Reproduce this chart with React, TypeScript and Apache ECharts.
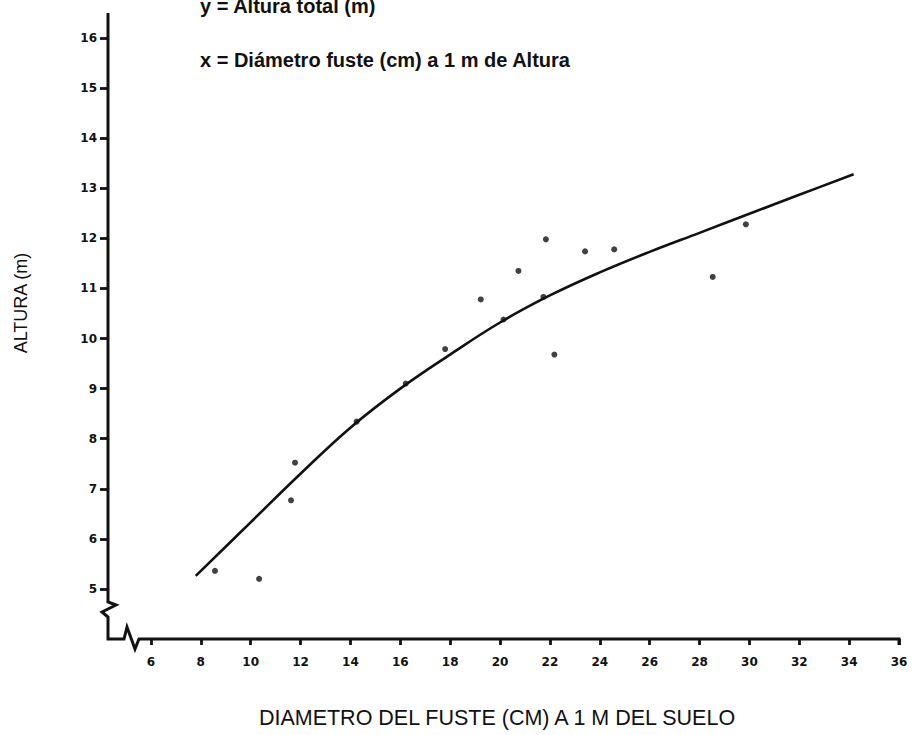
import React, { useEffect, useRef } from "react";
import * as echarts from "echarts";

const xTicks = [6, 8, 10, 12, 14, 16, 18, 20, 22, 24, 26, 28, 30, 32, 34, 36];
const yTicks = [5, 6, 7, 8, 9, 10, 11, 12, 13, 14, 15, 16];

const obsX = [8.57, 10.34, 11.62, 11.78, 14.25, 16.22, 17.8, 19.23, 20.14, 20.74, 21.74, 21.84, 22.18, 23.41, 24.58, 28.53, 29.86];
const obsY = [5.36, 5.2, 6.77, 7.52, 8.34, 9.1, 9.79, 10.78, 10.38, 11.35, 10.83, 11.98, 9.68, 11.74, 11.78, 11.23, 12.28];

const curveX = [7.8, 10, 12, 14, 16, 18, 20, 22, 24, 26, 28, 30, 32, 34.18];
const curveY = [5.26, 6.33, 7.3, 8.22, 9.0, 9.68, 10.32, 10.86, 11.32, 11.73, 12.11, 12.49, 12.87, 13.28];

const titleY = "y = Altura total (m)";
const titleX = "x = Diámetro fuste (cm) a 1 m de Altura";
const nameY = "ALTURA (m)";
const nameX = "DIAMETRO DEL FUSTE (CM) A 1 M DEL SUELO";

const Y_OFFSET = 7;

export default function App() {
  const ref = useRef<HTMLDivElement>(null);
  useEffect(() => {
    if (!ref.current) return;
    const chart = echarts.init(ref.current, null, { renderer: "svg" });
    const tickFont = { fontFamily: "DejaVu Sans", fontWeight: "bold", fontSize: 12, color: "#111" };
    const option: any = {
      animation: false,
      backgroundColor: "#fff",
      grid: { left: 101, right: 15, top: 13, bottom: 96 },
      xAxis: {
        type: "value",
        min: 4,
        max: 36,
        interval: 2,
        axisLine: { show: false },
        splitLine: { show: false },
        axisTick: { show: true, length: 6, customValues: xTicks, lineStyle: { color: "#111", width: 2.8 } },
        axisLabel: { ...tickFont, margin: 17, customValues: xTicks },
      },
      yAxis: {
        type: "value",
        min: 4,
        max: 16.5,
        interval: 1,
        offset: -Y_OFFSET,
        axisLine: { show: false },
        splitLine: { show: false },
        axisTick: { show: true, length: 8, customValues: yTicks, lineStyle: { color: "#111", width: 2.8 } },
        axisLabel: { ...tickFont, margin: 11, customValues: yTicks },
      },
      series: [
        {
          type: "line",
          data: curveX.map((x, i) => [x, curveY[i]]),
          smooth: 0.4,
          showSymbol: false,
          symbol: "none",
          lineStyle: { color: "#111", width: 2.6 },
        },
        {
          type: "scatter",
          data: obsX.map((x, i) => [x, obsY[i]]),
          symbolSize: 6,
          itemStyle: { color: "#111" },
        },
      ],
    };
    chart.setOption(option);

    const Y0 = (chart.convertToPixel({ xAxisIndex: 0 }, 4) as number) + Y_OFFSET;
    const X0 = chart.convertToPixel({ yAxisIndex: 0 }, 4) as number;
    const top = chart.convertToPixel({ yAxisIndex: 0 }, 16.5) as number;
    const right = chart.convertToPixel({ xAxisIndex: 0 }, 36) as number;

    chart.setOption({
      graphic: [
        {
          type: "polyline",
          shape: {
            points: [
              [Y0, top],
              [Y0, X0 - 37],
              [Y0 + 8, X0 - 34],
              [Y0 - 6, X0 - 27],
              [Y0, X0 - 22],
              [Y0, X0],
              [Y0 + 16, X0],
              [Y0 + 19, X0 - 12],
              [Y0 + 27, X0 + 10],
              [Y0 + 31, X0],
              [right, X0],
              [right, X0 + 6],
            ],
          },
          style: { stroke: "#111", lineWidth: 3, fill: null, lineJoin: "miter" },
          z: 10,
        },
        {
          type: "text",
          x: 200,
          y: 6,
          style: { text: titleY, fontFamily: "Liberation Sans", fontWeight: "bold", fontSize: 20, fill: "#111", textVerticalAlign: "middle" },
        },
        {
          type: "text",
          x: 200,
          y: 60,
          style: { text: titleX, fontFamily: "Liberation Sans", fontWeight: "bold", fontSize: 20, fill: "#111", textVerticalAlign: "middle" },
        },
        {
          type: "text",
          x: 21,
          y: 303,
          rotation: Math.PI / 2,
          style: { text: nameY, fontFamily: "Liberation Sans", fontSize: 18, fill: "#111", textAlign: "center", textVerticalAlign: "middle" },
        },
        {
          type: "text",
          x: 497,
          y: 718,
          style: { text: nameX, fontFamily: "Liberation Sans", fontSize: 21.5, fill: "#111", textAlign: "center", textVerticalAlign: "middle" },
        },
      ],
    });
    return () => chart.dispose();
  }, []);
  return <div ref={ref} style={{ position: "fixed", left: 0, top: 0, width: 914, height: 735 }} />;
}
